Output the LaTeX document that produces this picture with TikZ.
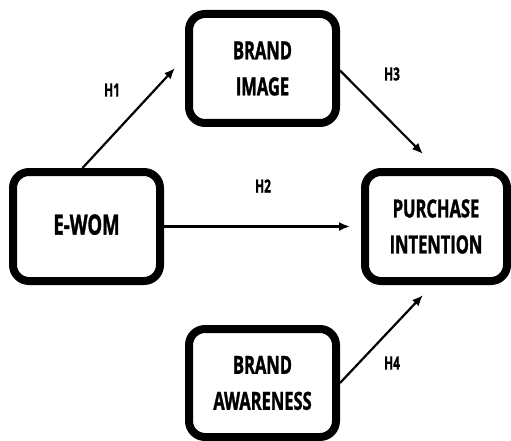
\documentclass[tikz,border=0pt]{standalone}
\usepackage{fontspec}
\setmainfont{Open Sans}[FakeStretch=0.66, BoldFeatures={FakeBold=1.2}]
\usetikzlibrary{arrows.meta}
\begin{document}
\begin{tikzpicture}[x=1pt,y=-1pt,
  box/.style={draw, line width=8pt, rounded corners=16pt, minimum width=147pt,
    minimum height=109pt, inner sep=0pt, align=center,
    font=\bfseries\fontsize{25}{36}\selectfont},
  link/.style={line width=2.2pt, -{Latex[length=11pt,width=9pt]}},
  hyp/.style={font=\bfseries\fontsize{18}{18}\selectfont, inner sep=0pt}]
\useasboundingbox (0,0) rectangle (511,441);
\node[box] (bi) at (262.5,68.5) {BRAND\\IMAGE};
\node[box, font=\bfseries\fontsize{28}{36}\selectfont] (ew) at (86.5,226.5) {\raisebox{4pt}{E-WOM}};
\node[box, minimum width=142pt] (pi) at (436,226.5) {PURCHASE\\INTENTION};
\node[box, minimum height=108pt] (ba) at (262.5,383) {BRAND\\AWARENESS};
\coordinate (t1) at (175,68);
\coordinate (t3) at (423,154);
\coordinate (t4) at (423,295);
\draw[link] ([xshift=-4pt]ew.north) -- (t1);
\draw[link, shorten >=11pt] (ew.east) -- (pi.west);
\draw[link] ([yshift=-2pt]bi.east) -- (t3);
\draw[link] (ba.east) -- (t4);
\node[hyp] (h1) at (112,90) {H1};
\node[hyp] (h2) at (263,186) {H2};
\node[hyp] (h3) at (392,74) {H3};
\node[hyp] (h4) at (392,363) {H4};
\end{tikzpicture}
\end{document}
